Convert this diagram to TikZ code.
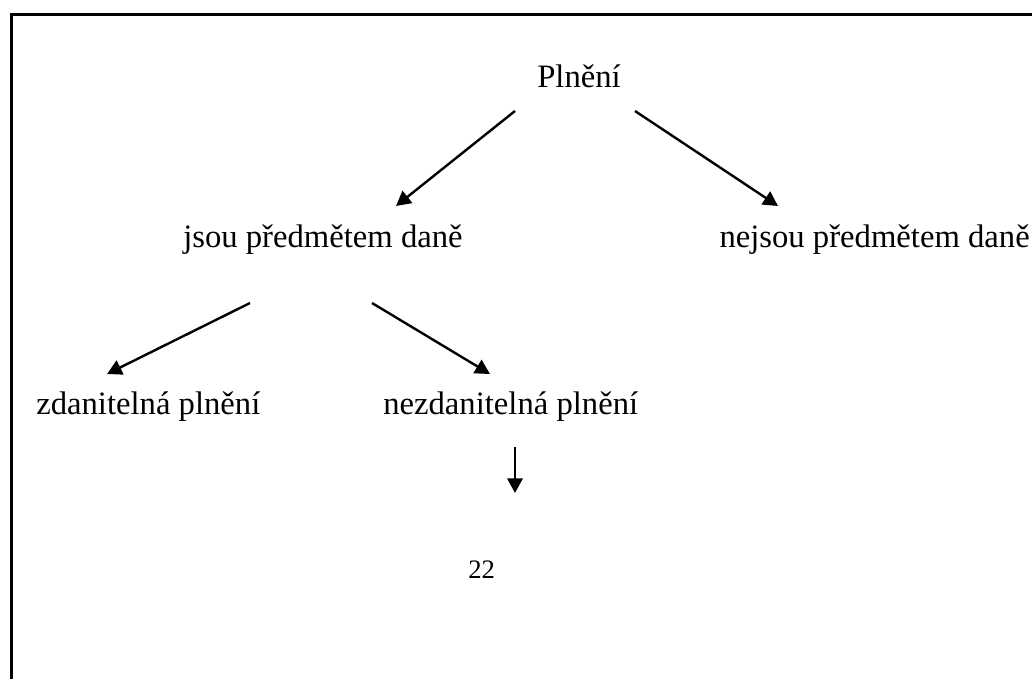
\documentclass[tikz,border=0pt]{standalone}
\usepackage{fontspec}
\setmainfont{Liberation Serif}
\usetikzlibrary{arrows.meta}

\begin{document}
\begin{tikzpicture}[x=0.75pt,y=-0.75pt,
  lbl/.style={inner sep=0pt,anchor=base west,font=\fontsize{24.5}{29}\selectfont},
  arr/.style={line width=1.8pt,-{Triangle[length=11pt,width=11.5pt]}}]
\useasboundingbox (0,0) rectangle (1032,679);

% frame
\draw[line width=2.2pt] (11.5,679) -- (11.5,14.5) -- (1032,14.5);

% labels
\node[lbl] (plneni) at (537,87) {Plnění};
\node[lbl] (jsou) at (183,247) {jsou předmětem daně};
\node[lbl,anchor=base east] (nejsou) at (1030,247) {nejsou předmětem daně};
\node[lbl] (zdan) at (36,414) {zdanitelná plnění};
\node[lbl] (nezdan) at (383,414) {nezdanitelná plnění};
\node[lbl,font=\fontsize{20}{24}\selectfont] (num) at (468,578) {22};

% arrow ends
\coordinate (p1) at (515,111);
\coordinate (p2) at (635,111);
\coordinate (j1) at (396,206);
\coordinate (n1) at (778,206);
\coordinate (j2) at (250,303);
\coordinate (j3) at (372,303);
\coordinate (z1) at (107,374);
\coordinate (z2) at (490,374);
\coordinate (d1) at (515,447);
\coordinate (d2) at (515,493);

\draw[arr] (p1) -- (j1);
\draw[arr] (p2) -- (n1);
\draw[arr] (j2) -- (z1);
\draw[arr] (j3) -- (z2);
\draw[arr] (d1) -- (d2);

\end{tikzpicture}
\end{document}
